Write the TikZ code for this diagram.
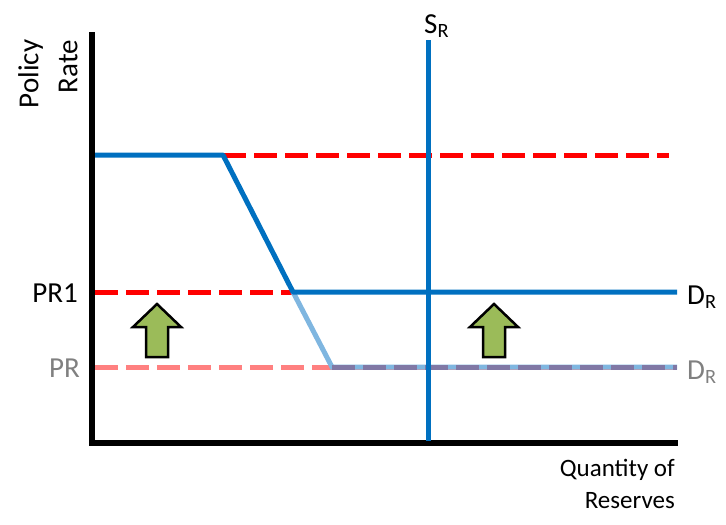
\documentclass[tikz,border=0pt]{standalone}
\usepackage{fontspec}
\setmainfont{Carlito}
\begin{document}
\begin{tikzpicture}[x=1pt,y=-1pt,
  ax/.style={line width=6pt},
  bl/.style={line width=5pt,color={rgb,255:red,0;green,112;blue,192}},
  lbl/.style={line width=5pt,color={rgb,255:red,127;green,182;blue,224}},
  rd/.style={line width=5pt,red,dash pattern=on 23pt off 8pt},
  lrd/.style={line width=5pt,color={rgb,255:red,255;green,128;blue,128},dash pattern=on 23pt off 8pt},
  upar/.style={draw=black,line width=2.5pt,fill={rgb,255:red,155;green,187;blue,89},line join=miter},
  txt/.style={font=\fontsize{29}{33}\selectfont,inner sep=0pt}]
\useasboundingbox (0,0) rectangle (726,525);
\coordinate (o) at (92,443);
\coordinate (ytop) at (92,32);
\coordinate (xend) at (678,443);
\draw[ax] (ytop) -- (o) -- (xend);
% dashed lines
\coordinate (r1a) at (223,155); \coordinate (r1b) at (669,155);
\draw[rd] (r1a) -- (r1b);
\coordinate (r2a) at (95,292); \coordinate (k2) at (293,292);
\draw[rd] (r2a) -- (k2);
\coordinate (r3a) at (95,367); \coordinate (r3b) at (677,367);
\draw[lrd] (r3a) -- (r3b);
% light demand
\coordinate (k3) at (332,367);
\draw[lbl] (k2) -- (k3) -- (r3b);
\draw[line width=5pt,color={rgb,255:red,128;green,120;blue,165},dash pattern=on 23pt off 8pt] (k3) -- (r3b);
% demand
\coordinate (d0) at (95,155); \coordinate (k1) at (223,155); \coordinate (dend) at (677,292);
\draw[bl,line join=round] (d0) -- (k1) -- (k2) -- (dend);
% supply
\coordinate (s1) at (428,40); \coordinate (s0) at (428,441);
\draw[bl] (s1) -- (s0);
% arrows
\draw[upar] (157,304) -- (181,327) -- (168,327) -- (168,357) -- (146,357) -- (146,327) -- (133,327) -- cycle;
\draw[upar] (494,304) -- (518,327) -- (505,327) -- (505,357) -- (483,357) -- (483,327) -- (470,327) -- cycle;
% labels
\node[txt,rotate=90,align=right,font=\fontsize{29}{39}\selectfont] (yl) at (48,74) {Policy\\Rate};
\node[txt,anchor=east] (pr1) at (78,293) {PR1};
\node[txt,anchor=east,color={rgb,255:red,128;green,128;blue,128}] (pr) at (80,368) {PR};
\node[txt,anchor=west] (dr1) at (687,297) {D\textsubscript{R}};
\node[txt,anchor=west,color={rgb,255:red,128;green,128;blue,128}] (dr2) at (687,372) {D\textsubscript{R}};
\node[txt,anchor=west] (sr) at (424,26) {S\textsubscript{R}};
\node[font=\fontsize{25}{32}\selectfont,align=right,inner sep=0pt,anchor=north east] (xl) at (675,459) {Quantity of\\Reserves};
\end{tikzpicture}
\end{document}
